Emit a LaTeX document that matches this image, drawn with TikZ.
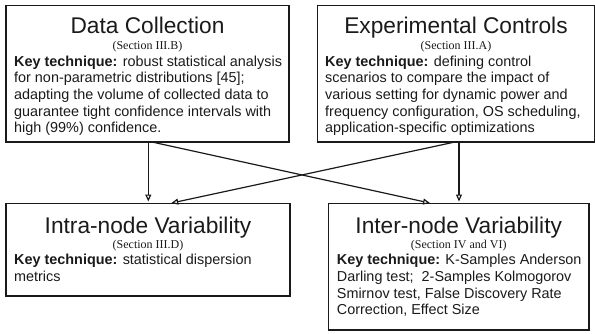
\documentclass[tikz,border=0pt]{standalone}
\usepackage{fontspec}
\setmainfont{Liberation Sans}
\newfontfamily\secfamily{Liberation Serif}
\usetikzlibrary{arrows.meta}
\definecolor{ink}{HTML}{1A1A1A}
\tikzset{
  box/.style={draw=ink, line width=1.3pt, rectangle, anchor=north west, inner sep=0pt, outer sep=0pt},
  ttl/.style={anchor=base, inner sep=0pt, text=ink, font=\fontsize{22.7}{26}\selectfont},
  sec/.style={anchor=base, inner sep=0pt, text=ink, font=\secfamily\fontsize{12}{14}\selectfont},
  body/.style={anchor=north west, inner sep=0pt, align=left, text=ink, font=\fontsize{14.4}{16.7}\selectfont},
  arr/.style={draw=ink, line width=1.2pt, -{Triangle[open,length=7pt,width=6pt]}, shorten >=2pt}
}
\begin{document}
\begin{tikzpicture}[x=1pt,y=-1pt]
\useasboundingbox (0,0) rectangle (595,333);
% boxes
\node[box, minimum width=283pt, minimum height=136.5pt] (dc) at (6,5.5) {};
\node[box, minimum width=277pt, minimum height=136.5pt] (ec) at (317.5,5.5) {};
\node[box, minimum width=284pt, minimum height=92.5pt] (intra) at (6,203.5) {};
\node[box, minimum width=260.5pt, minimum height=126.5pt] (inter) at (328.5,203.5) {};
% Data Collection
\node[ttl] (dct) at (147.5,33.3) {Data Collection};
\node[sec] (dcs) at (147.5,49.3) {(Section III.B)};
\node[body] (dcb) at (14,54.3) {\strut\textbf{Key technique:} robust statistical analysis\\
for non-parametric distributions [45];\\
adapting the volume of collected data to\\
guarantee tight confidence intervals with\\
high (99\%) confidence.};
% Experimental Controls
\node[ttl] (ect) at (456,33.3) {Experimental Controls};
\node[sec] (ecs) at (456,49.3) {(Section III.A)};
\node[body] (ecb) at (325,54.3) {\strut\textbf{Key technique:} defining control\\
scenarios to compare the impact of\\
various setting for dynamic power and\\
frequency configuration, OS scheduling,\\
application-specific optimizations};
% Intra-node
\node[ttl] (int) at (148,233) {Intra-node Variability};
\node[sec] (ins) at (148,248) {(Section III.D)};
\node[body] (inb) at (14,253) {\strut\textbf{Key technique:} statistical dispersion\\
metrics};
% Inter-node
\node[ttl] (itt) at (458.7,233) {Inter-node Variability};
\node[sec] (its) at (458.7,248) {(Section IV and VI)};
\node[body] (itb) at (336.7,252.8) {\strut\textbf{Key technique:} K-Samples Anderson\\
Darling test;\ \ 2-Samples Kolmogorov\\
Smirnov test, False Discovery Rate\\
Correction, Effect Size};
% connectors
\draw[arr] ([xshift=142.3pt]dc.south west) -- ([xshift=142.3pt]intra.north west);
\draw[arr] ([xshift=146pt]dc.south west) -- ([xshift=103.5pt]inter.north west);
\draw[arr] ([xshift=141.5pt]ec.south west) -- ([xshift=130.5pt]inter.north west);
\draw[arr] ([xshift=137.5pt]ec.south west) -- ([xshift=163.3pt]intra.north west);
\end{tikzpicture}
\end{document}
